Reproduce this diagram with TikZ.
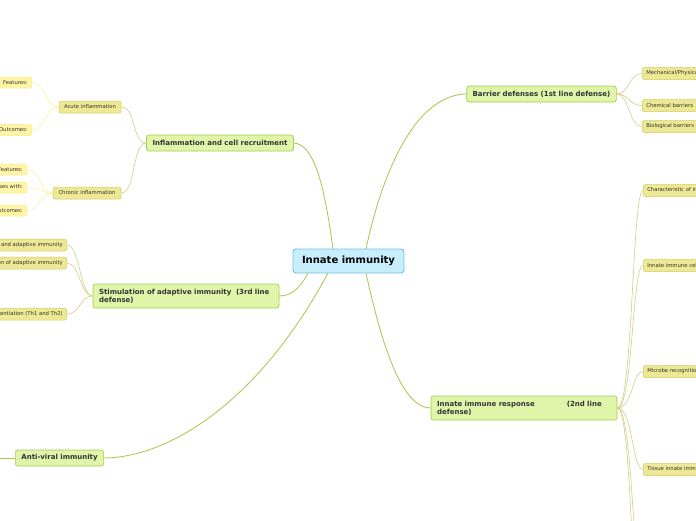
\documentclass[tikz,border=0pt]{standalone}
\usepackage{fontspec}
\setmainfont{DejaVu Sans}
\definecolor{rootf}{HTML}{C8EEFD}
\definecolor{rootb}{HTML}{6CC2EA}
\definecolor{mainf}{HTML}{E0F5A9}
\definecolor{mainb}{HTML}{A6CC50}
\definecolor{subf}{HTML}{EDE893}
\definecolor{subb}{HTML}{D3CB66}
\definecolor{leaff}{HTML}{FFF5A6}
\definecolor{leafb}{HTML}{FBEB8C}
\definecolor{conA}{HTML}{A8C64C}
\definecolor{conB}{HTML}{D4CE84}
\definecolor{conC}{HTML}{FFF0A0}
\definecolor{txt}{HTML}{333333}
\begin{document}
\begin{tikzpicture}[x=1pt,y=-1pt,
  rootbox/.style={draw=rootb, fill=rootf, rounded corners=3pt, line width=0.9pt,
    font=\bfseries\fontsize{10}{11}\selectfont, minimum height=24pt, minimum width=111pt, inner sep=0pt},
  mainbox/.style={draw=mainb, fill=mainf, rounded corners=2.5pt, line width=0.7pt, text=txt,
    font=\bfseries\fontsize{7}{8}\selectfont, inner xsep=6pt, inner ysep=0pt, minimum height=16pt, align=left},
  subbox/.style={draw=subb, fill=subf, rounded corners=2pt, line width=0.5pt, text=txt,
    font=\fontsize{5.3}{6}\selectfont, minimum height=12pt, inner xsep=4pt, inner ysep=0pt},
  leafbox/.style={draw=leafb, fill=leaff, rounded corners=2pt, line width=0.5pt, text=txt,
    font=\fontsize{5.3}{6}\selectfont, minimum height=11pt, inner xsep=4pt, inner ysep=0pt},
  cA/.style={draw=conA, line width=0.8pt},
  cB/.style={draw=conB, line width=0.6pt},
  cC/.style={draw=conC, line width=0.6pt}]
\useasboundingbox (0,0) rectangle (696,520);
\fill[white] (0,0) rectangle (696,520);
\clip (0,0) rectangle (696,520);

% coordinates for connector ends
\coordinate (rtl) at (333,249);
\coordinate (rtr) at (366,249);
\coordinate (rbr) at (366,273);
\coordinate (rbl) at (308,273);
\coordinate (rbm) at (328,273);
\coordinate (i5) at (643,580);
\coordinate (i6) at (643,660);
\coordinate (avx) at (-20,458);

% main connectors (drawn first, nodes on top)
\draw[cA] (rtl) .. controls (325,190) and (315,143) .. (293,143);
\draw[cA] (rtr) .. controls (385,160) and (420,94) .. (467,94);
\draw[cA] (rbr) .. controls (385,360) and (405,408) .. (431,408);
\draw[cA] (rbl) .. controls (300,288) and (292,296) .. (279,296);
\draw[cA] (rbm) .. controls (260,400) and (170,458) .. (103,458);

% main nodes
\node[rootbox] (root) at (348.5,261) {Innate immunity};
\node[mainbox, minimum width=149pt] (bar) at (541.5,94) {Barrier defenses (1st line defense)};
\node[mainbox, minimum width=146pt] (inf) at (220,143) {Inflammation and cell recruitment};
\node[mainbox, text width=174pt, minimum height=24pt] (sti) at (186,296) {Stimulation of adaptive immunity\ \ (3rd line\\defense)};
\node[mainbox, text width=174pt, minimum height=24pt] (inn) at (524,408) {Innate immune response\hspace*{32pt}(2nd line\\defense)};
\node[mainbox, minimum width=87pt] (av) at (59.5,458) {Anti-viral immunity};
\draw[cA] (av.west) -- (avx);

% level 2
\node[subbox, minimum width=62pt] (acu) at (90,107) {Acute inflammation};
\node[subbox, minimum width=68pt] (chr) at (87,193) {Chronic inflammation};

\node[leafbox, anchor=east] (af) at (32,82.5) {Features:};
\node[leafbox, anchor=east] (ao) at (32,130) {Outcomes:};
\node[leafbox, anchor=east] (cf) at (27,169.5) {Features:};
\node[leafbox, anchor=east] (cp) at (27,187.5) {Progresses with:};
\node[leafbox, anchor=east] (co) at (27,210.5) {Outcomes:};

\node[subbox, anchor=east] (s1) at (67,245) {Link between innate and adaptive immunity};
\node[subbox, anchor=east] (s2) at (67,263) {Initiation of adaptive immunity};
\node[subbox, anchor=east] (s3) at (67,314) {T cell differentiation (Th1 and Th2)};

\node[subbox, anchor=west] (b1) at (642,73.5) {Mechanical/Physical barriers};
\node[subbox, anchor=west] (b2) at (642,105.5) {Chemical barriers};
\node[subbox, anchor=west] (b3) at (642,126.5) {Biological barriers};

\node[subbox, anchor=west] (i1) at (643,190.5) {Characteristic of innate immunity};
\node[subbox, anchor=west] (i2) at (643,265.5) {Innate immune cells};
\node[subbox, anchor=west] (i3) at (643,371.5) {Microbe recognition};
\node[subbox, anchor=west] (i4) at (643,469.5) {Tissue innate immunity};

% level 2 connectors
\draw[cB] (inf.west) .. controls (132,143) and (136,107) .. (acu.east);
\draw[cB] (inf.west) .. controls (132,143) and (136,193) .. (chr.east);
\foreach \t in {s1,s2,s3}
  \draw[cB] (sti.west) .. controls (80,296) and (80,0|-\t.east) .. (\t.east);
\foreach \t in {b1,b2,b3}
  \draw[cB] (bar.east) .. controls (629,94) and (629,0|-\t.west) .. (\t.west);
\foreach \t in {i1,i2,i3,i4}
  \draw[cB] (inn.east) .. controls (633,408) and (632,0|-\t.west) .. (\t.west);
\foreach \t in {i5,i6}
  \draw[cB] (inn.east) .. controls (633,408) and (632,0|-\t) .. (\t);

% level 3 connectors
\foreach \t in {af,ao}
  \draw[cC] (acu.west) .. controls (45,107) and (46,0|-\t.east) .. (\t.east);
\foreach \t in {cf,cp,co}
  \draw[cC] (chr.west) .. controls (40,193) and (40,0|-\t.east) .. (\t.east);
\end{tikzpicture}
\end{document}
